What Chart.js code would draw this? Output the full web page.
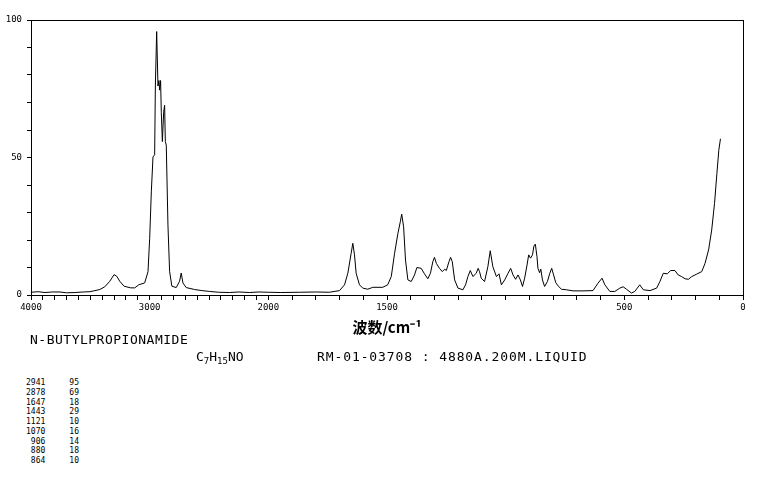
<!DOCTYPE html>
<html>
<head>
<meta charset="utf-8">
<script src="https://cdn.jsdelivr.net/npm/chart.js@4.4.1/dist/chart.umd.min.js"></script>
<style>
  body { margin: 0; background: #fff; }
  #wrap { position: relative; width: 765px; height: 480px; background: #fff; }
  #box { position: absolute; left: 0; top: 0; width: 765px; height: 340px; }
  .txt { position: absolute; font-family: "DejaVu Sans Mono", monospace; color: #000; white-space: pre; }
  .big { font-size: 13px; line-height: 14px; }
  .small { font-size: 8px; line-height: 9.75px; }
  sub { font-size: 9px; vertical-align: -3px; line-height: 0; }
</style>
</head>
<body>
<div id="wrap">
  <div id="box"><canvas id="chart-1"></canvas></div>
  <div class="txt big" style="left:30px; top:333px; letter-spacing:0.5px;">N-BUTYLPROPIONAMIDE</div>
  <div class="txt big" style="left:196px; top:350px;">C<sub>7</sub>H<sub>15</sub>NO</div>
  <div class="txt big" style="left:317px; top:350px; letter-spacing:0.9px;">RM-01-03708 : 4880A.200M.LIQUID</div>
  <div class="txt small" id="peaks" style="left:26px; top:378px;"></div>
</div>
<script>
// spectrum (wavenumber cm-1 / intensity)
var wavenumbers = [4000, 3940, 3882, 3820, 3756, 3700, 3630, 3560, 3504, 3471, 3420, 3378, 3336, 3300, 3277, 3252, 3216, 3160, 3126, 3092, 3042, 3014, 3000, 2986, 2972, 2958, 2952, 2941, 2930, 2922, 2916, 2908, 2902, 2893, 2882, 2874, 2868, 2860, 2846, 2832, 2813, 2776, 2748, 2734, 2720, 2692, 2622, 2560, 2496, 2420, 2328, 2250, 2160, 2080, 2000,
    1950, 1869, 1800, 1743, 1700, 1679, 1665, 1651, 1644, 1637, 1630, 1616, 1602, 1581, 1560, 1518, 1497, 1482, 1468, 1454, 1444, 1438, 1430, 1422, 1412, 1398, 1384, 1374, 1356, 1342, 1328, 1317, 1307, 1300, 1292, 1279, 1267, 1257, 1250, 1239, 1232, 1225, 1215, 1201, 1180, 1169, 1159, 1149, 1138, 1124, 1116, 1110, 1103, 1089, 1075, 1065, 1054, 1039, 1028, 1018, 1004, 990, 979, 969, 958, 948, 938, 929, 920, 910, 903, 895, 887, 881, 875, 868, 864, 857, 852, 845, 836, 824, 814, 806, 798, 789, 779, 765, 744, 716, 674, 632, 611, 594, 582, 561, 540, 519, 505, 491, 470, 456, 435, 420, 392, 364, 350, 336, 319, 305, 287, 273, 259, 244, 230, 216, 195, 174, 160, 145, 132, 120, 110, 102, 95];
var intensity = [1.0, 1.2, 0.9, 1.1, 1.1, 0.8, 0.9, 1.1, 1.2, 1.5, 2.0, 3.0, 5.0, 7.4, 6.8, 5.0, 3.2, 2.6, 2.6, 3.7, 4.4, 8.5, 20.5, 37.5, 50.2, 51, 76, 95.8, 76, 78, 74.5, 78, 66.5, 55.8, 66.5, 69, 55.8, 54.5, 25.5, 8.6, 3.2, 2.7, 5.0, 8.0, 4.4, 2.7, 2.0, 1.6, 1.3, 1.0, 0.9, 1.1, 0.9, 1.1, 1.0,
    0.9, 1.0, 1.1, 1.0, 1.6, 3.7, 7.9, 15.2, 18.8, 14.6, 7.9, 3.7, 2.5, 2.1, 2.8, 2.8, 3.7, 6.7, 15.2, 22.4, 26.6, 29.4, 24.8, 12.7, 5.5, 4.9, 7.3, 10.0, 9.7, 7.7, 5.9, 7.9, 12.1, 13.7, 11.5, 9.7, 8.5, 9.4, 8.9, 12.1, 13.7, 12.1, 5.5, 2.5, 1.9, 3.7, 6.7, 8.9, 6.7, 7.9, 9.7, 8.5, 6.1, 4.9, 10.3, 16.1, 10.3, 6.7, 7.7, 3.7, 5.5, 7.9, 9.7, 7.3, 5.7, 7.3, 5.5, 3.1, 6.1, 10.9, 14.6, 13.4, 14.6, 17.8, 18.5, 13.9, 9.7, 8.1, 9.4, 5.5, 3.1, 4.9, 7.9, 9.7, 7.3, 4.5, 3.3, 2.1, 1.9, 1.5, 1.5, 1.6, 4.3, 6.1, 3.7, 1.3, 1.3, 2.5, 3.0, 2.1, 0.7, 1.3, 3.7, 1.9, 1.6, 2.5, 4.9, 7.9, 7.7, 8.9, 8.9, 7.3, 6.7, 5.9, 5.7, 6.7, 7.6, 8.5, 11.5, 16.4, 23.6, 33.3, 44.2, 52.6, 56.8];

var xTickLabels = [4000, 3000, 2000, 1500, 500, 0];
var yTickLabels = [0, 50, 100];

var peakWavenumbers = [2941, 2878, 1647, 1443, 1121, 1070, 906, 880, 864];
var peakIntensities = [95, 69, 18, 29, 10, 16, 14, 18, 10];

// the axis is squeezed 2x above 2000 cm-1
function pos(w) { return w >= 2000 ? (4000 - w) / 2 : 1000 + (2000 - w); }
function wn(p) { return p <= 1000 ? 4000 - 2 * p : 2000 - (p - 1000); }

var xTicks = [];
for (var w = 4000; w >= 0; w -= 100) xTicks.push({ value: pos(w) });

var points = wavenumbers.map(function (w, i) { return { x: pos(w), y: intensity[i] }; });

var frame = {
    id: 'frame',
    afterDraw: function (chart) {
        var a = chart.chartArea, c = chart.ctx;
        c.save();
        c.strokeStyle = '#000';
        c.lineWidth = 1;
        c.strokeRect(Math.round(a.left) + 0.5, Math.round(a.top) + 0.5, Math.round(a.right - a.left), Math.round(a.bottom - a.top));
        c.restore();
    }
};

var tickFont = { family: 'DejaVu Sans Mono', size: 9 };

var ctx_1 = document.getElementById('chart-1');
var myChart = new Chart(ctx_1, {
    type: 'line',
    data: {
        datasets: [{
            data: points,
            borderColor: '#000',
            borderWidth: 1,
            pointRadius: 0,
            tension: 0,
            fill: false
        }]
    },
    options: {
        responsive: true,
        maintainAspectRatio: false,
        animation: false,
        layout: {
            padding: { top: 20, right: 22, left: 0, bottom: 0 }
        },
        plugins: {
            legend: { display: false },
            tooltip: { enabled: false }
        },
        scales: {
            x: {
                type: 'linear',
                min: 0,
                max: 3000,
                afterBuildTicks: function (scale) { scale.ticks = xTicks.slice(); },
                afterFit: function (scale) { scale.height = 45; },
                grid: { drawOnChartArea: false, tickLength: 5, color: '#000' },
                border: { display: true, color: '#000' },
                ticks: {
                    autoSkip: false,
                    maxRotation: 0,
                    padding: 2,
                    color: '#000',
                    font: tickFont,
                    callback: function (v) {
                        var w = Math.round(wn(v));
                        return xTickLabels.indexOf(w) >= 0 ? String(w) : '';
                    }
                },
                title: {
                    display: true,
                    text: '波数/cm⁻¹',
                    color: '#000',
                    font: { family: 'Noto Sans CJK SC', size: 15, weight: 'bold' },
                    padding: { top: 0, bottom: 4 }
                }
            },
            y: {
                min: 0,
                max: 100,
                afterFit: function (scale) { scale.width = 31; },
                grid: { drawOnChartArea: false, tickLength: 4, color: '#000' },
                border: { display: true, color: '#000' },
                ticks: {
                    stepSize: 10,
                    padding: 5,
                    color: '#000',
                    font: tickFont,
                    callback: function (v) { return yTickLabels.indexOf(v) >= 0 ? String(v) : ''; }
                }
            }
        }
    },
    plugins: [frame]
});

// peak table
var rows = peakWavenumbers.map(function (w, i) {
    var a = String(w), b = String(peakIntensities[i]);
    while (a.length < 4) a = ' ' + a;
    return a + '     ' + b;
});
document.getElementById('peaks').textContent = rows.join('\n');
</script>
</body>
</html>
